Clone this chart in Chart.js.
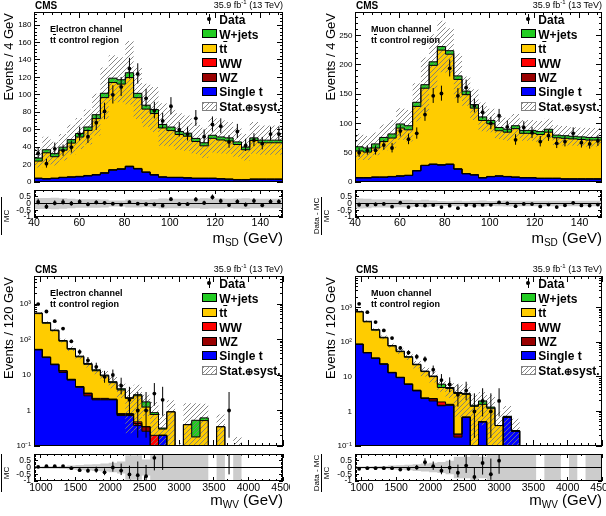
<!DOCTYPE html>
<html>
<head>
<meta charset="utf-8">
<script src="https://cdn.jsdelivr.net/npm/chart.js@4.4.1/dist/chart.umd.min.js"></script>
<style>
  html,body{margin:0;padding:0;background:#fff;}
  body{position:relative;width:606px;height:516px;overflow:hidden;font-family:"Liberation Sans",Arial,Helvetica,sans-serif;color:#000;}
  canvas{position:absolute;display:block;}
  .t{position:absolute;white-space:nowrap;line-height:1;color:#000;}
  .ov{text-decoration:overline;}
  .sw{position:absolute;box-sizing:border-box;width:15px;height:9px;border:1px solid #000;}
  .sw0{position:absolute;}
</style>
</head>
<body>
<canvas id="c_tl"></canvas><canvas id="r_tl"></canvas>
<canvas id="c_tr"></canvas><canvas id="r_tr"></canvas>
<canvas id="c_bl"></canvas><canvas id="r_bl"></canvas>
<canvas id="c_br"></canvas><canvas id="r_br"></canvas>
<script>
// ------------------------------------------------------------------
// DATA
// ------------------------------------------------------------------
const N_BINS = 30;
const SD_RANGE = [40, 150];     // m_SD axis (GeV), 30 bins
const WV_RANGE = [900, 4500];   // m_WV axis (GeV), 30 bins of 120 GeV

const SD_MAJOR = [40, 60, 80, 100, 120, 140];
const WV_MAJOR = [1000, 1500, 2000, 2500, 3000, 3500, 4000, 4500];
const EL_SD_YMAJOR = [0, 20, 40, 60, 80, 100, 120, 140, 160, 180];
const MU_SD_YMAJOR = [0, 50, 100, 150, 200, 250];
const LOG_MAJOR = [0.1, 1, 10, 100, 1000];
const LOG_LABELS = ['10\u207B\u00B9', '1', '10', '10\u00B2', '10\u00B3'];
const RATIO_MAJOR = [-1, -0.5, 0, 0.5, 1];
const RATIO_LABELS = ['-1', '-0.5', '0', '0.5', ''];

// Electron channel, m_SD
const elSdData    = [33, 21, 38, 36, 40, 55, 52, 68, 81, 100, 109, 130, 124, 96, 82, 70, 87, 60, 55, 73, 52, 66, 64, 46, 58, 42, 48, 44, 55, 55];
const elSdWjets   = [3.5, 3.5, 3.5, 3.5, 3.5, 4, 4, 4, 4.5, 5, 5, 5, 5.5, 5, 4.5, 4.5, 4, 4, 3.5, 3.5, 3.5, 3.5, 3.5, 3.5, 3.5, 3, 3, 3, 3, 3];
const elSdTT      = [21.6, 19.6, 29.6, 24.6, 31.1, 38.7, 45.1, 51.6, 64.1, 86.1, 99.9, 97.1, 101.6, 81.1, 72.1, 70.1, 56.1, 53.6, 49.1, 47.6, 42.1, 37.1, 45.7, 44.3, 43.7, 40.1, 34.1, 44.2, 41.6, 41.6];
const elSdWW      = [0.2, 0.2, 0.2, 0.2, 0.2, 0.2, 0.3, 0.3, 0.3, 0.4, 0.4, 0.4, 0.4, 0.3, 0.3, 0.3, 0.2, 0.2, 0.2, 0.2, 0.2, 0.2, 0.2, 0.2, 0.2, 0.2, 0.2, 0.2, 0.2, 0.2];
const elSdWZ      = [0.2, 0.2, 0.2, 0.2, 0.2, 0.2, 0.2, 0.2, 0.3, 0.3, 0.3, 0.3, 0.3, 0.3, 0.2, 0.2, 0.2, 0.2, 0.2, 0.2, 0.2, 0.2, 0.2, 0.2, 0.2, 0.2, 0.2, 0.2, 0.2, 0.2];
const elSdSingleT = [4, 4, 3.5, 4, 5, 5.5, 6, 7, 8, 10, 13.5, 14.5, 17.5, 15, 11, 8, 5.5, 5, 5, 4.5, 4, 4, 4, 3.5, 3, 2.5, 2.5, 3, 3, 3];
const elSdRelUnc  = [0.37, 0.4, 0.4, 0.42, 0.38, 0.35, 0.32, 0.32, 0.31, 0.29, 0.22, 0.22, 0.29, 0.29, 0.28, 0.31, 0.37, 0.35, 0.36, 0.36, 0.36, 0.38, 0.37, 0.37, 0.36, 0.37, 0.38, 0.36, 0.35, 0.35];

// Muon channel, m_SD
const muSdData    = [50, 54, 54, 63, 58, 87, 73, 83, 115, 147, 151, 194, 147, 161, 130, 119, 100, 113, 94, 72, 93, 84, 69, 79, 66, 69, 83, 67, 65, 70];
const muSdWjets   = [7, 7, 7, 7, 7, 7, 7, 7, 7, 6, 6, 6, 6, 6, 6, 6, 6, 5.5, 5.5, 5, 5, 5, 5, 5, 5, 4.5, 4.5, 4.5, 4.5, 4.5];
const muSdTT      = [41.5, 45.5, 43.5, 49.5, 60.5, 65.5, 81.5, 77.5, 109.5, 131.5, 168.5, 195.5, 187.5, 152.5, 134.5, 113.5, 97.5, 90, 77, 75.5, 82.5, 75.5, 75.5, 74.5, 78.5, 69, 69, 68, 67, 66];
const muSdWW      = [0.3, 0.3, 0.3, 0.3, 0.3, 0.3, 0.3, 0.3, 0.3, 0.3, 0.3, 0.3, 0.3, 0.3, 0.3, 0.3, 0.3, 0.3, 0.3, 0.3, 0.3, 0.3, 0.3, 0.3, 0.3, 0.3, 0.3, 0.3, 0.3, 0.3];
const muSdWZ      = [0.2, 0.2, 0.2, 0.2, 0.2, 0.2, 0.2, 0.2, 0.2, 0.2, 0.2, 0.2, 0.2, 0.2, 0.2, 0.2, 0.2, 0.2, 0.2, 0.2, 0.2, 0.2, 0.2, 0.2, 0.2, 0.2, 0.2, 0.2, 0.2, 0.2];
const muSdSingleT = [6, 7, 7, 8, 8, 9, 10, 11, 19, 28, 30, 29, 30, 22, 14, 12, 7, 9, 10, 9, 8, 7, 7, 6, 6, 6, 5, 5, 5, 5];
const muSdRelUnc  = [0.4, 0.37, 0.35, 0.3, 0.29, 0.29, 0.27, 0.28, 0.24, 0.28, 0.23, 0.19, 0.17, 0.21, 0.16, 0.2, 0.22, 0.19, 0.21, 0.22, 0.21, 0.2, 0.2, 0.21, 0.2, 0.21, 0.21, 0.2, 0.2, 0.21];

// Electron channel, m_WV
const elWvData    = [1000, 616, 330, 204, 89, 45, 26, 17, 9, 10, 5, 2, 1, 1, 3, 2, 0, 0, 0, 0, 0, 0, 0, 1, 0, 0, 0, 0, 0, 0];
const elWvWjets   = [40, 22, 12, 7, 4, 2.5, 1.5, 1.0, 0.8, 0.5, 0.4, 0.3, 0.1, 0.2, 0.5, 0.1, 0.02, 0, 0.02, 0, 0.35, 0.1, 0, 0, 0, 0.03, 0, 0, 0, 0];
const elWvTT      = [827, 485, 255.8, 157.7, 76.7, 45.9, 27.75, 16.9, 11, 7.3, 4.0, 2.98, 1.38, 2.12, 0.9, 0.57, 0.1, 0.92, 0, 0.4, 0.18, 0.52, 0, 0.35, 0, 0, 0, 0, 0, 0];
const elWvWW      = [1.5, 1, 0.6, 0.4, 0.3, 0.2, 0.1, 0.1, 0.1, 0.1, 0.05, 0.05, 0.05, 0.05, 0, 0.2, 0, 0, 0, 0, 0, 0, 0, 0, 0, 0, 0, 0, 0, 0];
const elWvWZ      = [1.5, 1, 0.6, 0.4, 1.2, 0.2, 0.15, 0.4, 0.1, 0.1, 0.05, 0.05, 0.05, 0.05, 0.09, 0, 0, 0, 0, 0, 0, 0, 0, 0, 0, 0, 0, 0, 0, 0];
const elWvSingleT = [85, 51, 31, 19.5, 11.8, 7.2, 4.5, 2.6, 2.0, 2.0, 2.0, 0.72, 0.72, 0.38, 0.26, 0, 0.2, 0, 0, 0, 0, 0, 0, 0, 0, 0, 0, 0, 0, 0];
const elWvRelUnc  = [0.07, 0.08, 0.09, 0.1, 0.12, 0.15, 0.18, 0.22, 0.25, 0.3, 0.35, 0.45, 0.9, 0.9, 0.6, 1.0, 1.5, 1.1, 5, 3, 2, 1.5, 0, 1.2, 0, 5, 0, 0, 0, 0];

// Muon channel, m_WV
const muWvData    = [1278, 731, 380, 218, 131, 68, 50, 38, 32, 16, 8, 6, 3, 4, 1, 2, 1, 2, 0, 0, 0, 0, 0, 0, 0, 0, 0, 0, 0, 0];
const muWvWjets   = [50, 27, 14, 8, 5, 3, 2, 1.3, 0.8, 0.5, 0.4, 1.2, 0.3, 0.2, 0.2, 0.1, 0.4, 0.1, 0, 0.04, 0.01, 0.01, 0.01, 0, 0.01, 0.01, 0, 0.01, 0, 0.01];
const muWvTT      = [1219, 655, 335.8, 187.2, 109.4, 63.6, 43.35, 30.5, 18.1, 11.65, 7.75, 3.03, 3.0, 3.08, 2.42, 1.4, 1.1, 1.23, 0.39, 0, 0, 0, 0, 0, 0, 0, 0, 0, 0, 0];
const muWvWW      = [1.5, 1, 0.6, 0.4, 0.3, 0.2, 0.1, 0.1, 0.1, 0.05, 0.05, 0.37, 0.05, 0, 0, 0, 0, 0, 0, 0, 0, 0, 0, 0, 0, 0, 0, 0, 0, 0];
const muWvWZ      = [1.5, 1, 0.6, 0.4, 0.3, 0.2, 0.15, 0.1, 0.1, 0.05, 0.3, 0.05, 0.05, 0.04, 0, 0, 0, 0, 0, 0, 0, 0, 0, 0, 0, 0, 0, 0, 0, 0];
const muWvSingleT = [148, 86, 49, 34, 23, 13, 9.4, 6, 3.9, 2.35, 2.0, 1.45, 1.5, 0.18, 0.68, 0, 0.5, 0, 0, 0.68, 0.27, 0, 0, 0, 0, 0, 0, 0, 0, 0];
const muWvRelUnc  = [0.06, 0.07, 0.08, 0.1, 0.12, 0.14, 0.17, 0.2, 0.25, 0.3, 0.35, 0.4, 0.5, 0.8, 0.8, 1.0, 0.8, 1.2, 1.5, 1.0, 1.2, 3, 3, 0, 3, 3, 0, 3, 0, 3];

// ------------------------------------------------------------------
const COL = {singleT: '#0000ff', wz: '#990000', ww: '#ff0000', tt: '#ffcc00', wjets: '#22cc22'};
const FONT = '"Liberation Sans", Arial, Helvetica, sans-serif';

function seq(a, b, s) { const o = []; for (let k = 0; a + k * s <= b + 1e-9; k++) o.push(+(a + k * s).toFixed(6)); return o; }
function logMinor(min, max) { const o = []; for (let e = -1; e <= 4; e++) for (let m = 2; m <= 9; m++) { const v = m * Math.pow(10, e); if (v > min && v < max) o.push(v); } return o; }
function binEdges(r) { const w = (r[1] - r[0]) / N_BINS; return seq(0, N_BINS, 1).map(i => r[0] + i * w); }
function poisson(n) { // Gehrels approximation of the 68% Poisson interval
  const up = n + Math.sqrt(n + 0.75) + 1;
  const lo = n * Math.pow(1 - 1 / (9 * n) - 1 / (3 * Math.sqrt(n)), 3);
  return [lo, up];
}
function stepPts(e, vals, floor) {
  const pts = vals.map((v, i) => ({x: e[i], y: floor != null ? Math.max(v, floor) : v}));
  pts.push({x: e[N_BINS], y: pts[N_BINS - 1].y});
  return pts;
}
function makeHatch() {
  const c = document.createElement('canvas'); c.width = 5; c.height = 5;
  const g = c.getContext('2d');
  g.strokeStyle = '#7a7a7a'; g.lineWidth = 0.9;
  g.beginPath(); g.moveTo(0, 5); g.lineTo(5, 0); g.moveTo(-1, 1); g.lineTo(1, -1); g.moveTo(4, 6); g.lineTo(6, 4); g.stroke();
  return g.createPattern(c, 'repeat');
}
const HATCH = makeHatch();

const framePlugin = {id: 'frame', afterDraw(chart) {
  const a = chart.chartArea, c = chart.ctx;
  c.save(); c.strokeStyle = '#000'; c.lineWidth = 1;
  c.strokeRect(Math.round(a.left) + 0.5, Math.round(a.top) + 0.5, Math.round(a.right - a.left) - 1, Math.round(a.bottom - a.top) - 1);
  c.restore();
}};

function axis(ax, pos, type, min, max, ticks, len, weight, size, labelOpts) {
  const o = {
    axis: ax, position: pos, type: type, min: min, max: max, bounds: 'data', offset: false, weight: weight,
    border: {display: false},
    grid: {display: true, drawOnChartArea: false, drawTicks: true, tickLength: -len, tickColor: '#000', tickWidth: 1},
    ticks: {display: false, autoSkip: false, maxRotation: 0, minRotation: 0},
    afterBuildTicks: sc => { sc.ticks = ticks.map(v => ({value: v})); },
    afterFit: sc => {
      if (ax === 'x') sc.height = size; else sc.width = size;
      sc.paddingLeft = 0; sc.paddingRight = 0; sc.paddingTop = 0; sc.paddingBottom = 0;
    }
  };
  if (labelOpts) Object.assign(o.ticks, {display: true, color: '#000', font: {family: FONT, size: labelOpts.font}, padding: labelOpts.pad, callback: labelOpts.cb});
  return o;
}

function buildScales(p, ratio, rect, frame) {
  const yW = frame.L - rect.x, xH = rect.y + rect.h - frame.B;
  const logY = !ratio && p.log;
  const yType = logY ? 'logarithmic' : 'linear';
  const ymin = ratio ? -1 : (logY ? 0.1 : 0), ymax = ratio ? 1 : p.yMax;
  const yMaj = ratio ? RATIO_MAJOR : p.yMajor;
  const yMin = ratio ? seq(-1, 1, 0.1) : p.yMinor;
  const L = ratio ? 4 : 6;
  let yLab;
  if (ratio) yLab = {font: 8.5, pad: 7, cb: (v, i) => RATIO_LABELS[i]};
  else if (logY) yLab = {font: 8, pad: 9, cb: (v, i) => LOG_LABELS[i]};
  else yLab = {font: 8, pad: 8.5, cb: v => String(v)};
  const xLab = ratio ? {font: 10.5, pad: p.rxPad, cb: v => String(v)} : null;
  return {
    x:   axis('x', 'bottom', 'linear', p.range[0], p.range[1], p.xMajor, L, 1, xH, xLab),
    xm:  axis('x', 'bottom', 'linear', p.range[0], p.range[1], p.xMinor, L / 2, 0, 0, null),
    xt:  axis('x', 'top', 'linear', p.range[0], p.range[1], p.xMajor, L, 1, 0, null),
    xtm: axis('x', 'top', 'linear', p.range[0], p.range[1], p.xMinor, L / 2, 0, 0, null),
    y:   axis('y', 'left', yType, ymin, ymax, yMaj, L, 1, yW, yLab),
    ym:  axis('y', 'left', yType, ymin, ymax, yMin, L / 2, 0, 0, null),
    yr:  axis('y', 'right', yType, ymin, ymax, yMaj, L, 1, 0, null),
    yrm: axis('y', 'right', yType, ymin, ymax, yMin, L / 2, 0, 0, null)
  };
}

function makeChart(id, rect, frame, scales, datasets) {
  const cv = document.getElementById(id);
  cv.width = rect.w; cv.height = rect.h;
  Object.assign(cv.style, {left: rect.x + 'px', top: rect.y + 'px', width: rect.w + 'px', height: rect.h + 'px'});
  datasets.forEach((d, i) => { d.order = 100 - i; });
  return new Chart(cv.getContext('2d'), {
    type: 'line',
    data: {datasets: datasets},
    options: {
      responsive: false, maintainAspectRatio: false, animation: false, devicePixelRatio: 1, events: [],
      layout: {padding: {left: 0, top: frame.T - rect.y, right: rect.x + rect.w - frame.R, bottom: 0}},
      plugins: {legend: {display: false}, tooltip: {enabled: false}, filler: {drawTime: 'beforeDatasetsDraw', propagate: false}},
      elements: {line: {tension: 0}, point: {radius: 0}},
      scales: scales
    },
    plugins: [framePlugin]
  });
}

function buildPanel(p) {
  const e = binEdges(p.range);
  const centers = e.slice(0, N_BINS).map((v, i) => (v + e[i + 1]) / 2);
  const floor = p.log ? 0.01 : null;
  const comps = [p.singleT, p.wz, p.ww, p.tt, p.wjets];
  const cols = [COL.singleT, COL.wz, COL.ww, COL.tt, COL.wjets];
  const names = ['Single t', 'WZ', 'WW', 'tt', 'W+jets'];
  let acc = new Array(N_BINS).fill(0);
  const ds = [];
  comps.forEach((c, k) => {
    acc = acc.map((a, i) => a + c[i]);
    ds.push({label: names[k], data: stepPts(e, acc, floor), stepped: 'after', borderColor: '#000', borderWidth: 1,
             backgroundColor: cols[k], fill: k === 0 ? 'start' : '-1', pointRadius: 0});
  });
  const total = acc;
  const lo = total.map((t, i) => t * (1 - p.unc[i]));
  const hi = total.map((t, i) => t * (1 + p.unc[i]));
  ds.push({label: 'unc-lo', data: stepPts(e, lo, floor), stepped: 'after', borderWidth: 0, borderColor: 'rgba(0,0,0,0)', fill: false, pointRadius: 0});
  ds.push({label: 'Stat.+syst.', data: stepPts(e, hi, floor), stepped: 'after', borderWidth: 0, borderColor: 'rgba(0,0,0,0)', backgroundColor: HATCH, fill: '-1', pointRadius: 0});
  const err = [];
  p.data.forEach((n, i) => { if (n > 0) { const [l, h] = poisson(n); err.push({x: centers[i], y: floor != null ? Math.max(l, floor) : l}, {x: centers[i], y: h}, {x: centers[i], y: NaN}); } });
  ds.push({label: 'err', data: err, borderColor: '#000', borderWidth: 1, pointRadius: 0, fill: false, spanGaps: false});
  ds.push({label: 'Data', data: p.data.map((n, i) => ({x: centers[i], y: n > 0 ? n : NaN})), showLine: false,
           pointRadius: 1.9, pointBackgroundColor: '#000', pointBorderColor: '#000', pointBorderWidth: 0});
  makeChart(p.id, p.canvas, p.frame, buildScales(p, false, p.canvas, p.frame), ds);

  // ratio panel
  const rds = [];
  const bandLo = total.map((t, i) => t > 0 ? -p.unc[i] : 0);
  const bandHi = total.map((t, i) => t > 0 ? p.unc[i] : 0);
  rds.push({data: stepPts(e, bandLo, null), stepped: 'after', borderWidth: 0, borderColor: 'rgba(0,0,0,0)', fill: false, pointRadius: 0});
  rds.push({data: stepPts(e, bandHi, null), stepped: 'after', borderWidth: 0, borderColor: 'rgba(0,0,0,0)', backgroundColor: '#cccccc', fill: '-1', pointRadius: 0});
  rds.push({data: [{x: p.range[0], y: 0}, {x: p.range[1], y: 0}], borderColor: '#000', borderWidth: 1, pointRadius: 0, fill: false});
  const rerr = [], rpts = [];
  p.data.forEach((n, i) => {
    const t = total[i];
    if (n > 0 && t > 0) {
      const [l, h] = poisson(n);
      rerr.push({x: centers[i], y: (l - t) / t}, {x: centers[i], y: (h - t) / t}, {x: centers[i], y: NaN});
      rpts.push({x: centers[i], y: (n - t) / t});
    }
  });
  rds.push({data: rerr, borderColor: '#000', borderWidth: 1, pointRadius: 0, fill: false, spanGaps: false});
  rds.push({data: rpts, showLine: false, pointRadius: 1.9, pointBackgroundColor: '#000', pointBorderColor: '#000', pointBorderWidth: 0});
  makeChart(p.rid, p.rcanvas, p.rframe, buildScales(p, true, p.rcanvas, p.rframe), rds);
}

// ------------------------------------------------------------------
const PANELS = [
  {id: 'c_tl', rid: 'r_tl', canvas: {x: 0, y: 0, w: 290, h: 186}, frame: {L: 34, R: 283, T: 12, B: 182},
   rcanvas: {x: 0, y: 186, w: 290, h: 44}, rframe: {L: 34, R: 283, T: 188, B: 217}, rxPad: 4,
   range: SD_RANGE, xMajor: SD_MAJOR, xMinor: seq(40, 150, 4), log: false, yMax: 195, yMajor: EL_SD_YMAJOR, yMinor: seq(0, 195, 4),
   data: elSdData, wjets: elSdWjets, tt: elSdTT, ww: elSdWW, wz: elSdWZ, singleT: elSdSingleT, unc: elSdRelUnc,
   channel: 'Electron channel', yTitle: 'Events / 4 GeV', yTitleX: 7.5, xTitle: 'm<sub>SD</sub> (GeV)', xBase: 242, fracX: 1.6, fracY: 216},
  {id: 'c_tr', rid: 'r_tr', canvas: {x: 303, y: 0, w: 303, h: 186}, frame: {L: 355, R: 602, T: 12, B: 182},
   rcanvas: {x: 303, y: 186, w: 303, h: 44}, rframe: {L: 355, R: 602, T: 188, B: 217}, rxPad: 4,
   range: SD_RANGE, xMajor: SD_MAJOR, xMinor: seq(40, 150, 4), log: false, yMax: 290, yMajor: MU_SD_YMAJOR, yMinor: seq(0, 290, 10),
   data: muSdData, wjets: muSdWjets, tt: muSdTT, ww: muSdWW, wz: muSdWZ, singleT: muSdSingleT, unc: muSdRelUnc,
   channel: 'Muon channel', yTitle: 'Events / 4 GeV', yTitleX: 329.7, xTitle: 'm<sub>SD</sub> (GeV)', xBase: 242, fracX: 322, fracY: 216},
  {id: 'c_bl', rid: 'r_bl', canvas: {x: 0, y: 264, w: 290, h: 186}, frame: {L: 34, R: 283, T: 276, B: 447},
   rcanvas: {x: 0, y: 450, w: 290, h: 44}, rframe: {L: 34, R: 283, T: 452, B: 481}, rxPad: 5,
   range: WV_RANGE, xMajor: WV_MAJOR, xMinor: seq(900, 4500, 100), log: true, yMax: 6170, yMajor: LOG_MAJOR, yMinor: logMinor(0.1, 6170),
   data: elWvData, wjets: elWvWjets, tt: elWvTT, ww: elWvWW, wz: elWvWZ, singleT: elWvSingleT, unc: elWvRelUnc,
   channel: 'Electron channel', yTitle: 'Events / 120 GeV', yTitleX: 7.5, xTitle: 'm<sub>WV</sub> (GeV)', xBase: 504, fracX: 1.6, fracY: 472.5},
  {id: 'c_br', rid: 'r_br', canvas: {x: 303, y: 264, w: 303, h: 186}, frame: {L: 355, R: 602, T: 276, B: 447},
   rcanvas: {x: 303, y: 450, w: 303, h: 44}, rframe: {L: 355, R: 602, T: 452, B: 481}, rxPad: 5,
   range: WV_RANGE, xMajor: WV_MAJOR, xMinor: seq(900, 4500, 100), log: true, yMax: 8130, yMajor: LOG_MAJOR, yMinor: logMinor(0.1, 8130),
   data: muWvData, wjets: muWvWjets, tt: muWvTT, ww: muWvWW, wz: muWvWZ, singleT: muWvSingleT, unc: muWvRelUnc,
   channel: 'Muon channel', yTitle: 'Events / 120 GeV', yTitleX: 329.7, xTitle: 'm<sub>WV</sub> (GeV)', xBase: 504, fracX: 322, fracY: 472.5}
];

// ------------------------------------------------------------------
// Text overlays (real text)
function addDiv(html, css, cls) {
  const d = document.createElement('div');
  d.className = cls || 't';
  d.innerHTML = html;
  Object.assign(d.style, css);
  document.body.appendChild(d);
  return d;
}
function px(v) { return v + 'px'; }

function decorate(p) {
  const f = p.frame;
  addDiv('CMS', {left: px(f.L + 1), top: px(f.T - 4 - 0.85 * 10), font: 'bold 10px ' + FONT});
  addDiv('35.9 fb<sup style="font-size:6px;vertical-align:4px;line-height:0">-1</sup> (13 TeV)',
         {right: px(606 - f.R), top: px(f.T - 4 - 0.85 * 9), font: '9px ' + FONT});
  addDiv(p.channel, {left: px(f.L + 16), top: px(f.T + 20 - 0.85 * 9), font: 'bold 9px ' + FONT});
  addDiv('t<span class="ov">t</span> control region', {left: px(f.L + 16), top: px(f.T + 30.5 - 0.85 * 9), font: 'bold 9px ' + FONT});
  const rows = [['data', 'Data'], [COL.wjets, 'W+jets'], [COL.tt, 't<span class="ov">t</span>'], [COL.ww, 'WW'],
                [COL.wz, 'WZ'], [COL.singleT, 'Single t'], ['hatch', 'Stat.<span style="font-size:10px">\u2295</span>syst.']];
  const offs = [7.3, 21.6, 36, 50.5, 65, 79.3, 94.3];
  rows.forEach((r, k) => {
    const yc = f.T + offs[k];
    if (r[0] === 'data') {
      addDiv('', {left: px(f.R - 74.3), top: px(yc - 5), width: '1px', height: '10px', background: '#000'}, 'sw0');
      addDiv('', {left: px(f.R - 75.8), top: px(yc - 1.9), width: '3.8px', height: '3.8px', borderRadius: '50%', background: '#000'}, 'sw0');
    } else if (r[0] === 'hatch') {
      addDiv('', {left: px(f.R - 81.3), top: px(yc - 4.5), border: '1px solid #808080',
                  background: 'repeating-linear-gradient(-45deg, #8a8a8a 0px, #8a8a8a 0.8px, #ffffff 0.8px, #ffffff 3.2px)'}, 'sw');
    } else {
      addDiv('', {left: px(f.R - 81.3), top: px(yc - 4.5), background: r[0]}, 'sw');
    }
    addDiv(r[1], {left: px(f.R - 63.7), top: px(yc + 4.3 - 0.85 * 12), font: 'bold 12px ' + FONT});
  });
  const W = 220;
  addDiv(p.yTitle, {left: px(p.yTitleX - 6.5), top: px(f.T + 1 + W), width: px(W), textAlign: 'right',
                    transformOrigin: '0 0', transform: 'rotate(-90deg)', font: '13px ' + FONT});
  addDiv(p.xTitle.replace('<sub>', '<sub style="font-size:10px;vertical-align:-3px;line-height:0">'),
         {right: px(606 - f.R), top: px(p.xBase - 0.85 * 15), font: '15px ' + FONT});
  const fw = 44, fh = 20;
  addDiv('<div style="display:inline-block;border-bottom:0.8px solid #000;line-height:9px;padding:0 1px">Data - MC</div><br>' +
         '<div style="display:inline-block;line-height:9px">MC</div>',
         {left: px(p.fracX - fw / 2), top: px(p.fracY - fh / 2), width: px(fw), height: px(fh), textAlign: 'center',
          transform: 'rotate(-90deg)', transformOrigin: '50% 50%', font: '8px ' + FONT});
}

PANELS.forEach(p => { buildPanel(p); decorate(p); });
</script>
</body>
</html>
